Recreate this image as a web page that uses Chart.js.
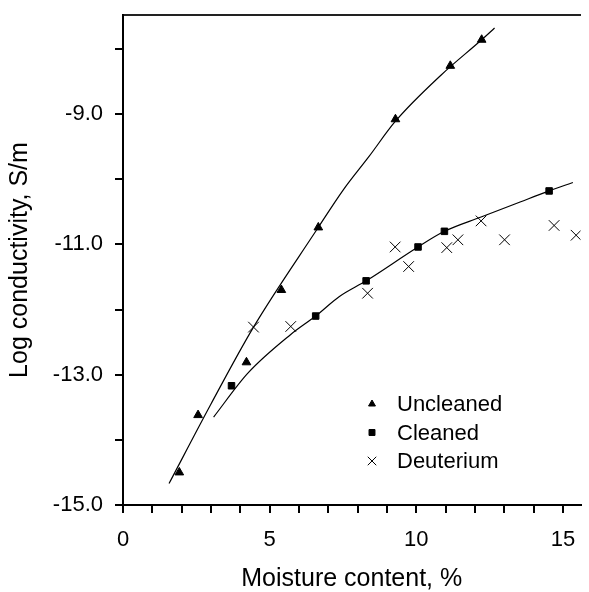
<!DOCTYPE html>
<html>
<head>
<meta charset="utf-8">
<script src="https://cdn.jsdelivr.net/npm/chart.js@4/dist/chart.umd.min.js"></script>
<style>
  body { margin: 0; background: #fff; }
  #wrap { width: 589px; height: 592px; }
</style>
</head>
<body>
<div id="wrap"><canvas id="myChart" width="589" height="592"></canvas></div>
<script>
// measured points (moisture %, log conductivity)
var uncleanedX = [1.92, 2.56, 4.21, 5.40, 6.66, 9.29, 11.16, 12.23];
var uncleanedY = [-14.50, -13.62, -12.81, -11.70, -10.74, -9.08, -8.26, -7.86];

var cleanedX = [3.70, 6.57, 8.29, 10.06, 10.96, 14.53];
var cleanedY = [-13.17, -12.10, -11.56, -11.04, -10.80, -10.18];

var deuteriumX = [4.45, 5.72, 8.34, 9.28, 9.74, 11.04, 11.42, 12.21, 13.01, 14.70, 15.45];
var deuteriumY = [-12.27, -12.26, -11.75, -11.04, -11.34, -11.05, -10.93, -10.64, -10.93, -10.71, -10.86];

// fitted curves
var uncleanedFitX = [1.57, 3.0, 4.45, 6.60, 7.50, 8.39, 9.29, 10.85, 12.23, 12.67];
var uncleanedFitY = [-14.67, -13.45, -12.27, -10.78, -10.17, -9.65, -9.11, -8.40, -7.86, -7.68];

var cleanedFitX = [3.09, 4.25, 5.70, 6.57, 7.38, 8.29, 10.06, 10.96, 12.21, 13.54, 14.53, 15.34];
var cleanedFitY = [-13.65, -12.98, -12.39, -12.10, -11.80, -11.56, -11.04, -10.80, -10.58, -10.35, -10.18, -10.05];

// ticks
var xTicks = [0, 1, 2, 3, 4, 5, 6, 7, 8, 9, 10, 11, 12, 13, 14, 15];
var xLabelTicks = [0, 5, 10, 15];
var yTicks = [-15, -14, -13, -12, -11, -10, -9, -8];
var yLabelTicks = [-15, -13, -11, -9];

var legendNames = ["Uncleaned", "Cleaned", "Deuterium"];

function pairs(xs, ys) {
  return xs.map(function (x, i) { return { x: x, y: ys[i] }; });
}

// no extra room for end labels, the plot box is fixed
function noPad(scale) {
  scale.paddingTop = 0;
  scale.paddingBottom = 0;
  scale.paddingLeft = 0;
  scale.paddingRight = 0;
}

Chart.defaults.font.family = "'Liberation Sans', Arial, sans-serif";
Chart.defaults.color = '#000';

var markerSets = [
  { style: 'triangle', legendRadius: 4 },
  { style: 'rect', legendRadius: 4.2 },
  { style: 'crossRot', legendRadius: 6 }
];

// legend drawn inside the plot, like the original figure
var insideLegend = {
  id: 'insideLegend',
  afterDraw: function (chart) {
    var ctx = chart.ctx;
    var x0 = 372, y0 = 404, rowH = 28.5;
    ctx.save();
    ctx.font = "22px 'Liberation Sans', Arial, sans-serif";
    ctx.textBaseline = 'middle';
    legendNames.forEach(function (name, i) {
      var m = markerSets[i];
      ctx.fillStyle = '#000';
      ctx.strokeStyle = '#000';
      Chart.helpers.drawPoint(ctx, {
        pointStyle: m.style,
        radius: m.legendRadius,
        rotation: 0,
        borderWidth: 1,
      }, x0, y0 + i * rowH);
      ctx.fillStyle = '#000';
      ctx.fillText(name, x0 + 25, y0 + i * rowH + 1);
    });
    ctx.restore();
  }
};

var pointDefaults = {
  showLine: false,
  backgroundColor: '#000',
  borderColor: '#000',
  borderWidth: 1
};

var data = {
  datasets: [
    Object.assign({}, pointDefaults, {
      label: 'Uncleaned',
      data: pairs(uncleanedX, uncleanedY),
      pointStyle: 'triangle',
      pointRadius: 5
    }),
    Object.assign({}, pointDefaults, {
      label: 'Cleaned',
      data: pairs(cleanedX, cleanedY),
      pointStyle: 'rect',
      pointRadius: 4.6
    }),
    Object.assign({}, pointDefaults, {
      label: 'Deuterium',
      data: pairs(deuteriumX, deuteriumY),
      pointStyle: 'crossRot',
      pointRadius: 7.5
    }),
    {
      label: 'Uncleaned fit',
      data: pairs(uncleanedFitX, uncleanedFitY),
      showLine: true,
      pointRadius: 0,
      borderColor: '#000',
      borderWidth: 1.2,
      cubicInterpolationMode: 'monotone'
    },
    {
      label: 'Cleaned fit',
      data: pairs(cleanedFitX, cleanedFitY),
      showLine: true,
      pointRadius: 0,
      borderColor: '#000',
      borderWidth: 1.2,
      cubicInterpolationMode: 'monotone'
    }
  ]
};

var options = {
  responsive: false,
  animation: false,
  layout: { padding: { top: 15, left: 0, right: 0, bottom: 0 } },
  plugins: {
    legend: { display: false },
    tooltip: { enabled: false }
  },
  scales: {
    x: {
      type: 'linear',
      position: 'bottom',
      min: 0,
      max: 15.6,
      afterBuildTicks: function (scale) {
        scale.ticks = xTicks.map(function (v) { return { value: v }; });
      },
      afterFit: function (scale) { scale.height = 87; noPad(scale); },
      ticks: {
        autoSkip: false,
        maxRotation: 0,
        padding: 14,
        font: { size: 22 },
        callback: function (v) { return xLabelTicks.indexOf(v) >= 0 ? String(v) : ''; }
      },
      grid: {
        drawOnChartArea: false,
        drawTicks: true,
        tickLength: 8,
        color: '#000',
        lineWidth: 2
      },
      border: { display: true, color: '#000', width: 2 },
      title: {
        display: true,
        text: 'Moisture content, %',
        font: { size: 25, lineHeight: 1 },
        padding: { top: 0, bottom: 0 }
      }
    },
    xTop: {
      type: 'linear',
      position: 'top',
      min: 0,
      max: 15.6,
      afterFit: function (scale) { scale.height = 0; noPad(scale); },
      ticks: { display: false },
      grid: { display: false, drawOnChartArea: false, drawTicks: false },
      border: { display: true, color: '#222', width: 2 }
    },
    y: {
      type: 'linear',
      position: 'left',
      min: -15,
      max: -7.48,
      afterBuildTicks: function (scale) {
        scale.ticks = yTicks.map(function (v) { return { value: v }; });
      },
      afterFit: function (scale) { scale.width = 123; noPad(scale); },
      ticks: {
        autoSkip: false,
        padding: 12,
        font: { size: 22 },
        callback: function (v) { return yLabelTicks.indexOf(v) >= 0 ? v.toFixed(1) : ''; }
      },
      grid: {
        drawOnChartArea: false,
        drawTicks: true,
        tickLength: 8,
        color: '#000',
        lineWidth: 2
      },
      border: { display: true, color: '#000', width: 2 },
      title: {
        display: true,
        text: 'Log conductivity, S/m',
        font: { size: 25, lineHeight: 1 },
        padding: { top: 8, bottom: 0 }
      }
    }
  }
};

var myChart = new Chart(document.getElementById('myChart'), {
  type: 'scatter',
  data: data,
  options: options,
  plugins: [insideLegend]
});
</script>
</body>
</html>
